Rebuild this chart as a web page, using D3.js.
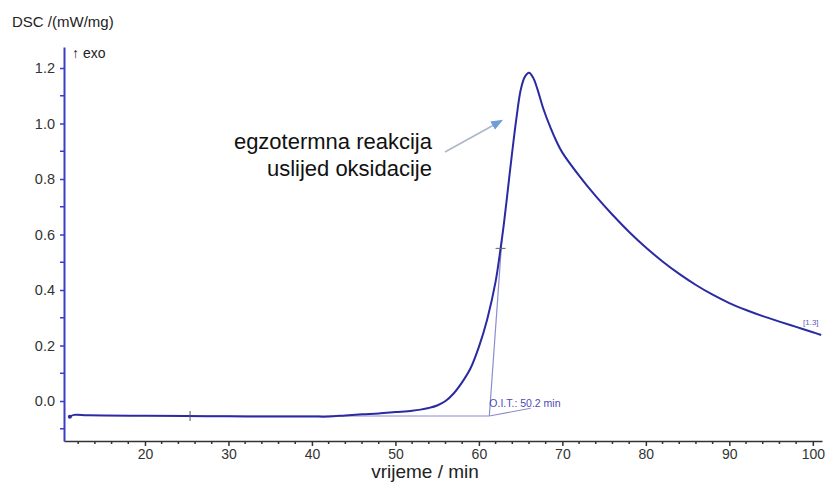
<!DOCTYPE html>
<html><head><meta charset="utf-8">
<script src="https://cdn.jsdelivr.net/npm/d3@7"></script>
<style>
html,body{margin:0;padding:0;background:#fff;}
svg{display:block;font-family:"Liberation Sans",Arial,sans-serif;}
</style></head>
<body>
<svg id="c" width="826" height="483"></svg>
<script>
// ---- data ----
const timeMin = [11.0,11.5,13,15,20,25,30,35,40,42,44,46,48,50,52,53,54,55,56,57,58,59,60,61,62,62.6,63,63.5,64,64.5,65,65.5,66,66.5,67,67.7,68.6,69.3,70,72,74,76,78,80,82,84,86,88,90,92,94,96,98,100,101];
const dscValue = [-0.057,-0.050,-0.051,-0.052,-0.053,-0.054,-0.055,-0.056,-0.056,-0.056,-0.052,-0.048,-0.045,-0.040,-0.035,-0.031,-0.025,-0.016,0.000,0.028,0.068,0.118,0.195,0.295,0.43,0.55,0.64,0.77,0.90,1.02,1.12,1.168,1.183,1.165,1.125,1.055,0.983,0.935,0.895,0.812,0.738,0.671,0.609,0.553,0.503,0.458,0.418,0.383,0.353,0.328,0.306,0.286,0.267,0.248,0.238];
const xTicks = [20,30,40,50,60,70,80,90,100];
const yTicks = [0.0,0.2,0.4,0.6,0.8,1.0,1.2];
const baselineX = [25.4, 61.25];
const baselineY = [-0.054, -0.054];
const tangentX = [61.25, 62.75];
const tangentY = [-0.054, 0.58];
const crossPts = [[25.4,-0.054],[62.6,0.55]];
const oitLeaderX = [61.25, 66.2];
const oitLeaderY = [-0.054, -0.026];
const oitLabel = "O.I.T.: 50.2 min";
const annotationLines = ["egzotermna reakcija","uslijed oksidacije"];

// ---- scales ----
const svg = d3.select("#c");
const x = d3.scaleLinear().domain([10.3, 101.1]).range([64, 822]);
const y = d3.scaleLinear().domain([-0.1441, 1.2757]).range([441, 47]);

// x axis with minor ticks
const xMinor = d3.range(12, 101, 2).filter(v => v % 10 !== 0);
svg.append("g").selectAll("line").data(xMinor).join("line")
  .attr("x1", d=>x(d)).attr("x2", d=>x(d)).attr("y1", 441).attr("y2", 444)
  .attr("stroke", "#333").attr("stroke-width", 1.5);
const xAxis = d3.axisBottom(x).tickValues(xTicks).tickSize(5).tickSizeOuter(0).tickFormat(d3.format("d"));
const gx = svg.append("g").attr("transform","translate(0,441)").call(xAxis);
gx.select(".domain").attr("stroke","#333").attr("stroke-width",1.6);
gx.selectAll(".tick line").attr("stroke","#333").attr("stroke-width",1.5);
gx.selectAll(".tick text").attr("font-size",14).attr("fill","#333").attr("y",18).attr("dy",0)
  .attr("font-family","Liberation Sans, Arial, sans-serif");

// y axis with minor ticks
const yMinor = d3.range(-0.1, 1.25, 0.2);
svg.append("g").selectAll("line").data(yMinor).join("line")
  .attr("x1", 60).attr("x2", 64).attr("y1", d=>y(d)).attr("y2", d=>y(d))
  .attr("stroke", "#3c3cc8").attr("stroke-width", 1.5);
const yAxis = d3.axisLeft(y).tickValues(yTicks).tickSize(4).tickSizeOuter(0).tickFormat(d3.format(".1f"));
const gy = svg.append("g").attr("transform","translate(64,0)").call(yAxis);
gy.select(".domain").attr("stroke","#3c3cc8").attr("stroke-width",2);
gy.selectAll(".tick line").attr("stroke","#3c3cc8").attr("stroke-width",1.5);
gy.selectAll(".tick text").attr("font-size",14.5).attr("fill","#333").attr("x",-9)
  .attr("font-family","Liberation Sans, Arial, sans-serif");

// baseline & tangent construction
const thin = d3.line().x(d=>x(d[0])).y(d=>y(d[1]));
svg.append("path").attr("d", thin(baselineX.map((v,i)=>[v, baselineY[i]])))
  .attr("stroke","#8c8cd0").attr("stroke-width",1.2).attr("fill","none");
svg.append("path").attr("d", thin(tangentX.map((v,i)=>[v, tangentY[i]])))
  .attr("stroke","#8c8cd0").attr("stroke-width",1.2).attr("fill","none");
svg.append("path").attr("d", thin(oitLeaderX.map((v,i)=>[v, oitLeaderY[i]])))
  .attr("stroke","#8c8cd0").attr("stroke-width",1.2).attr("fill","none");

// curve
const line = d3.line().x((d,i)=>x(timeMin[i])).y(d=>y(d)).curve(d3.curveCatmullRom.alpha(0.5));
svg.append("path").attr("d", line(dscValue))
  .attr("stroke","#2a2aa2").attr("stroke-width",2).attr("fill","none");
svg.append("circle").attr("cx", x(timeMin[0])).attr("cy", y(dscValue[0])).attr("r",2).attr("fill","#2a2aa2");

// cross markers
svg.append("line").attr("x1", x(crossPts[0][0])).attr("x2", x(crossPts[0][0]))
  .attr("y1", y(crossPts[0][1])-5).attr("y2", y(crossPts[0][1])+5).attr("stroke","#555").attr("stroke-width",1);
svg.append("line").attr("x1", x(crossPts[1][0])-5).attr("x2", x(crossPts[1][0])+5)
  .attr("y1", y(crossPts[1][1])).attr("y2", y(crossPts[1][1])).attr("stroke","#666").attr("stroke-width",1);

// OIT label
svg.append("text").attr("x", x(tangentX[0])).attr("y", 407).attr("font-size",10.5)
  .attr("fill","#4a4ab8").text(oitLabel);

// [1.3]
svg.append("text").attr("x", 803).attr("y", 325).attr("font-size",8).attr("fill","#5a5ab8").text("[1.3]");

// annotation
const ann = svg.append("text").attr("text-anchor","end").attr("font-size",22).attr("fill","#111")
  .attr("font-family","Liberation Sans, Arial, sans-serif");
annotationLines.forEach((t,i)=> ann.append("tspan").attr("x",432).attr("y",149+i*27).text(t));

// arrow
svg.append("defs").append("marker").attr("id","ah").attr("viewBox","0 0 10 10")
  .attr("refX",8).attr("refY",5).attr("markerWidth",8).attr("markerHeight",8).attr("orient","auto")
  .append("path").attr("d","M0,1 L10,5 L0,9 Z").attr("fill","#6f9fd6");
svg.append("line").attr("x1",445).attr("y1",152).attr("x2",501).attr("y2",121)
  .attr("stroke","#a9b7cc").attr("stroke-width",1.5).attr("marker-end","url(#ah)");

// titles
svg.append("text").attr("x",12).attr("y",27).attr("font-size",15).attr("fill","#222").text("DSC /(mW/mg)");
svg.append("text").attr("x",72).attr("y",58).attr("font-size",14).attr("fill","#222").text("\u2191 exo");
svg.append("text").attr("x",425).attr("y",478).attr("text-anchor","middle").attr("font-size",19).attr("fill","#222").text("vrijeme / min");
</script>
</body></html>
